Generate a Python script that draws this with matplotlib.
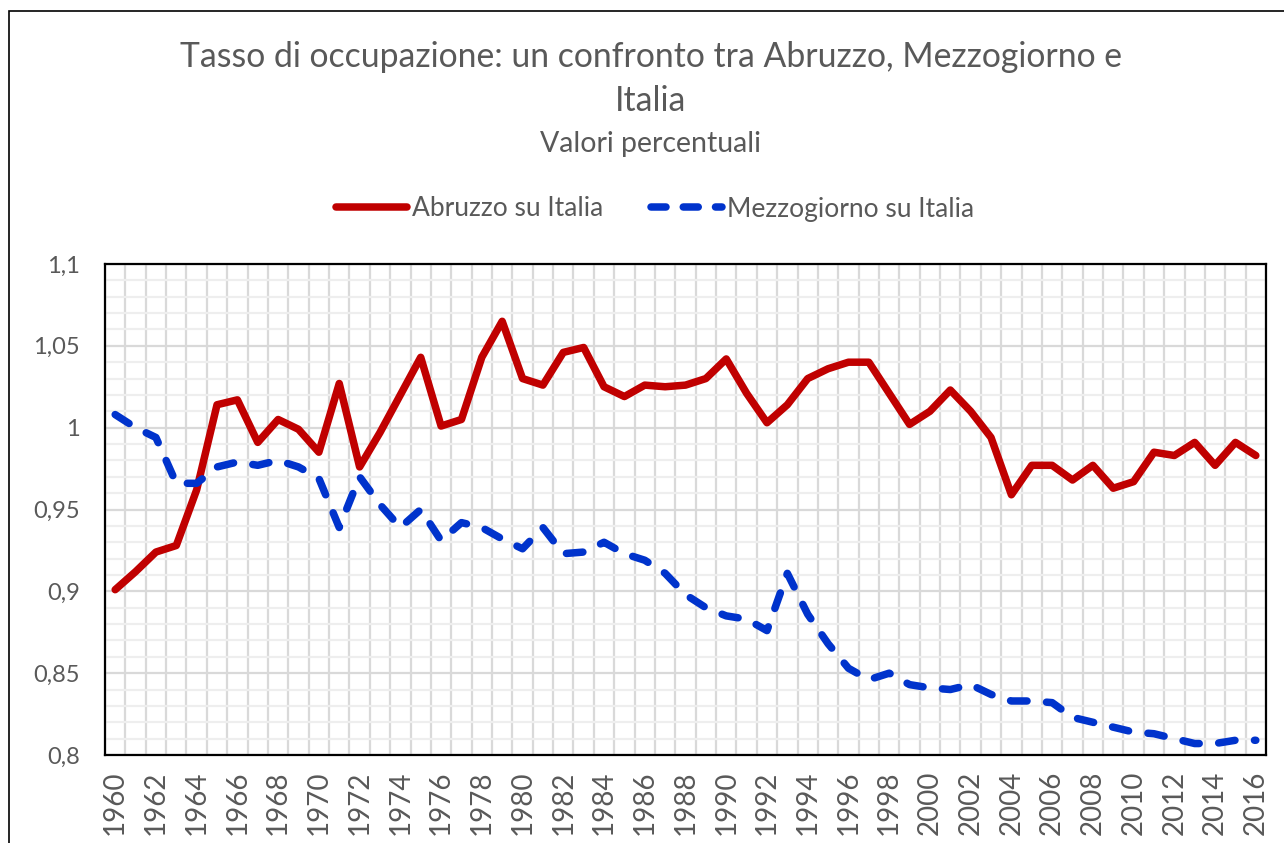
import matplotlib
matplotlib.use("Agg")
import matplotlib.pyplot as plt
import numpy as np
from matplotlib.lines import Line2D
from matplotlib.patches import Rectangle

years = list(range(1960, 2017))
abruzzo = [0.901, 0.912, 0.924, 0.928, 0.962, 1.014, 1.017, 0.991, 1.005, 0.999,
           0.985, 1.027, 0.976, 0.997, 1.020, 1.043, 1.001, 1.005, 1.043, 1.065,
           1.030, 1.026, 1.046, 1.049, 1.025, 1.019, 1.026, 1.025, 1.026, 1.030,
           1.042, 1.021, 1.003, 1.014, 1.030, 1.036, 1.040, 1.040, 1.021, 1.002,
           1.010, 1.023, 1.010, 0.994, 0.959, 0.977, 0.977, 0.968, 0.977, 0.963,
           0.967, 0.985, 0.983, 0.991, 0.977, 0.991, 0.983]
mezzogiorno = [1.008, 1.000, 0.994, 0.966, 0.966, 0.976, 0.979, 0.977, 0.980, 0.976,
               0.969, 0.939, 0.970, 0.953, 0.939, 0.950, 0.931, 0.942, 0.939, 0.932,
               0.926, 0.939, 0.923, 0.924, 0.930, 0.923, 0.919, 0.911, 0.898, 0.890,
               0.885, 0.883, 0.876, 0.911, 0.886, 0.868, 0.853, 0.846, 0.850, 0.843,
               0.841, 0.840, 0.843, 0.837, 0.833, 0.833, 0.832, 0.823, 0.820, 0.817,
               0.814, 0.813, 0.810, 0.807, 0.807, 0.809, 0.809]
series_names = ["Abruzzo su Italia", "Mezzogiorno su Italia"]
title_line1 = "Tasso di occupazione: un confronto tra Abruzzo, Mezzogiorno e"
title_line2 = "Italia"
subtitle = "Valori percentuali"
y_ticks = [0.8, 0.85, 0.9, 0.95, 1.0, 1.05, 1.1]
y_labels = ["0,8", "0,85", "0,9", "0,95", "1", "1,05", "1,1"]

plt.rcParams['font.family'] = ['Lato', 'DejaVu Sans']
grey = "#595959"
red = "#C00000"
blue = "#0033CC"
dash = (0, (2.2, 2.6))
legend_dash = (0, (2.0, 2.3))

fig = plt.figure(figsize=(12.84, 8.43), dpi=100)
# outer chart border
fig.patches.append(Rectangle((9/1284, -0.1), 1.2, (843-11)/843 + 0.1, transform=fig.transFigure,
                             fill=False, edgecolor="black", linewidth=1.2))

ax = fig.add_axes([105/1284, 1-755/843, (1266-105)/1284, (755-264)/843])
x = np.arange(len(years))
ax.plot(x, abruzzo, color=red, linewidth=5.4, solid_joinstyle='round', solid_capstyle='round', zorder=3)
ax.plot(x, mezzogiorno, color=blue, linewidth=5.4, linestyle=dash,
        dash_capstyle='round', dash_joinstyle='round', zorder=3)

ax.set_xlim(-0.5, len(years) - 0.5)
ax.set_ylim(0.8, 1.1)
ax.set_xticks(x[::2])
ax.set_xticklabels([str(y) for y in years[::2]], rotation=90, fontsize=20, color=grey)
ax.set_xticks(np.arange(-0.5, len(years), 1), minor=True)
ax.set_yticks(y_ticks)
ax.set_yticklabels(y_labels, fontsize=17, color=grey)
ax.set_yticks(np.arange(0.8, 1.1001, 0.01), minor=True)
ax.tick_params(axis='both', which='both', length=0)
ax.tick_params(axis='y', pad=18)
ax.tick_params(axis='x', pad=11)
ax.xaxis.grid(True, which='minor', color="#D9D9D9", linewidth=1.6)
ax.yaxis.grid(True, which='minor', color="#EEEEEE", linewidth=1.6)
ax.yaxis.grid(True, which='major', color="#D9D9D9", linewidth=1.6)
ax.set_axisbelow(True)
for s in ax.spines.values():
    s.set_linewidth(1.6)
    s.set_color("black")

fig.text(651/1284, 1-57/843, title_line1, ha='center', va='center', fontsize=24.3, color=grey)
fig.text(651/1284, 1-101/843, title_line2, ha='center', va='center', fontsize=24.3, color=grey)
fig.text(651/1284, 1-144/843, subtitle, ha='center', va='center', fontsize=20.5, color=grey)

handles = [Line2D([], [], color=red, linewidth=5.4, solid_capstyle='round'),
           Line2D([], [], color=blue, linewidth=5.4, linestyle=legend_dash, dash_capstyle='round')]
fig.legend(handles, series_names, loc='center', bbox_to_anchor=(655/1284, 1-209/843), ncol=2,
           frameon=False, fontsize=19, labelcolor=grey, handlelength=2.7, handletextpad=0.2,
           columnspacing=1.8)

fig.savefig("out.png", dpi=100)
